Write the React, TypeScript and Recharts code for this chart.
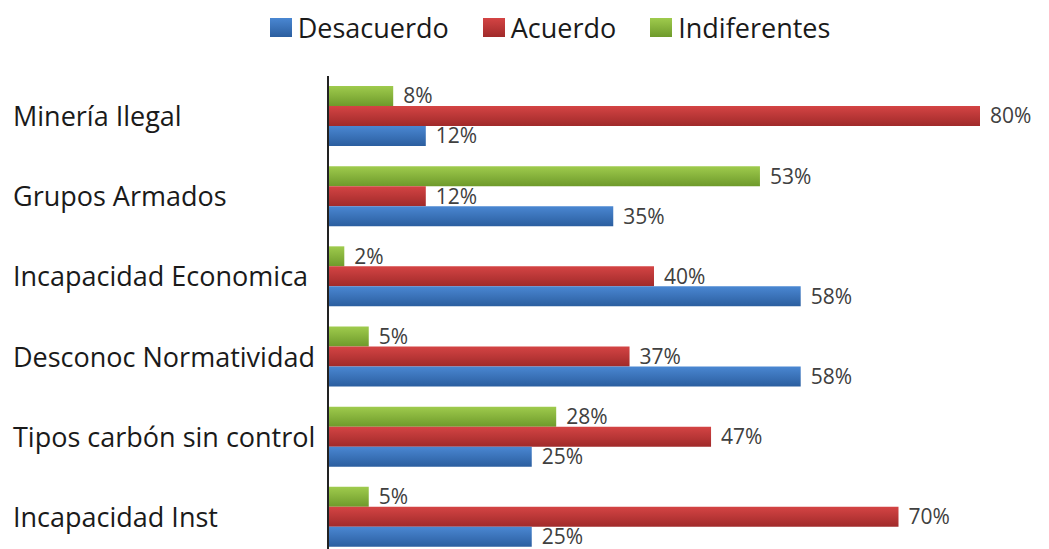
import { Bar, BarChart, LabelList, Legend, XAxis, YAxis } from "recharts";

const categories = [
  "Minería Ilegal",
  "Grupos Armados",
  "Incapacidad Economica",
  "Desconoc Normatividad",
  "Tipos carbón sin control",
  "Incapacidad Inst",
];
const desacuerdo = [12, 35, 58, 58, 25, 25];
const acuerdo = [80, 12, 40, 37, 47, 70];
const indiferentes = [8, 53, 2, 5, 28, 5];

const series = [
  { key: "desacuerdo", name: "Desacuerdo", top: "#4a87d2", bottom: "#2b5e9f" },
  { key: "acuerdo", name: "Acuerdo", top: "#d44444", bottom: "#a02a2a" },
  { key: "indiferentes", name: "Indiferentes", top: "#9fcb4d", bottom: "#6e9a2b" },
];

const data = categories.map((name, i) => ({
  name,
  desacuerdo: desacuerdo[i],
  acuerdo: acuerdo[i],
  indiferentes: indiferentes[i],
}));

const FONT = "'Open Sans', sans-serif";
const LEGEND_H = 38;

function CategoryTick({ y, payload }: any) {
  return (
    <text x={13} y={y} dy={10} textAnchor="start" fontSize={27} fill="#1a1a1a" fontFamily={FONT}>
      {payload.value}
    </text>
  );
}

function LegendContent() {
  return (
    <div
      style={{
        display: "flex",
        justifyContent: "center",
        alignItems: "center",
        height: LEGEND_H,
        gap: 34,
        fontFamily: FONT,
        fontSize: 27,
        color: "#1a1a1a",
        paddingLeft: 57,
      }}
    >
      {series.map((s) => (
        <div key={s.key} style={{ display: "flex", alignItems: "center" }}>
          <span
            style={{
              width: 22,
              height: 19,
              marginRight: 6,
              background: `linear-gradient(${s.top}, ${s.bottom})`,
              display: "inline-block",
            }}
          />
          {s.name}
        </div>
      ))}
    </div>
  );
}

export default function App() {
  // bars drawn top to bottom: green, red, blue
  const drawOrder = [series[2], series[1], series[0]];
  return (
    <div style={{ position: "fixed", left: 0, top: 0, width: 1049, height: 549, overflow: "hidden", background: "#fff" }}>
      <BarChart
        width={1049}
        height={557}
        data={data}
        layout="vertical"
        margin={{ top: 76 - LEGEND_H, right: 69, bottom: 0, left: 0 }}
        barCategoryGap={20}
        barGap={0}
      >
        <defs>
          {series.map((s) => (
            <linearGradient key={s.key} id={`g-${s.key}`} x1="0" y1="0" x2="0" y2="1">
              <stop offset="0%" stopColor={s.top} />
              <stop offset="100%" stopColor={s.bottom} />
            </linearGradient>
          ))}
        </defs>
        <Legend
          verticalAlign="top"
          content={<LegendContent />}
          wrapperStyle={{ top: 8, left: 0, width: 1043 }}
        />
        <XAxis type="number" domain={[0, 80]} hide />
        <YAxis
          type="category"
          dataKey="name"
          width={328}
          tickLine={false}
          axisLine={{ stroke: "#222", strokeWidth: 2 }}
          tick={<CategoryTick />}
        />
        {drawOrder.map((s) => (
          <Bar key={s.key} dataKey={s.key} name={s.name} fill={`url(#g-${s.key})`} barSize={20} isAnimationActive={false}>
            <LabelList
              dataKey={s.key}
              position="right"
              offset={10}
              formatter={(v: any) => `${v}%`}
              fontSize={21}
              fill="#404040"
              fontFamily={FONT}
            />
          </Bar>
        ))}
      </BarChart>
    </div>
  );
}
